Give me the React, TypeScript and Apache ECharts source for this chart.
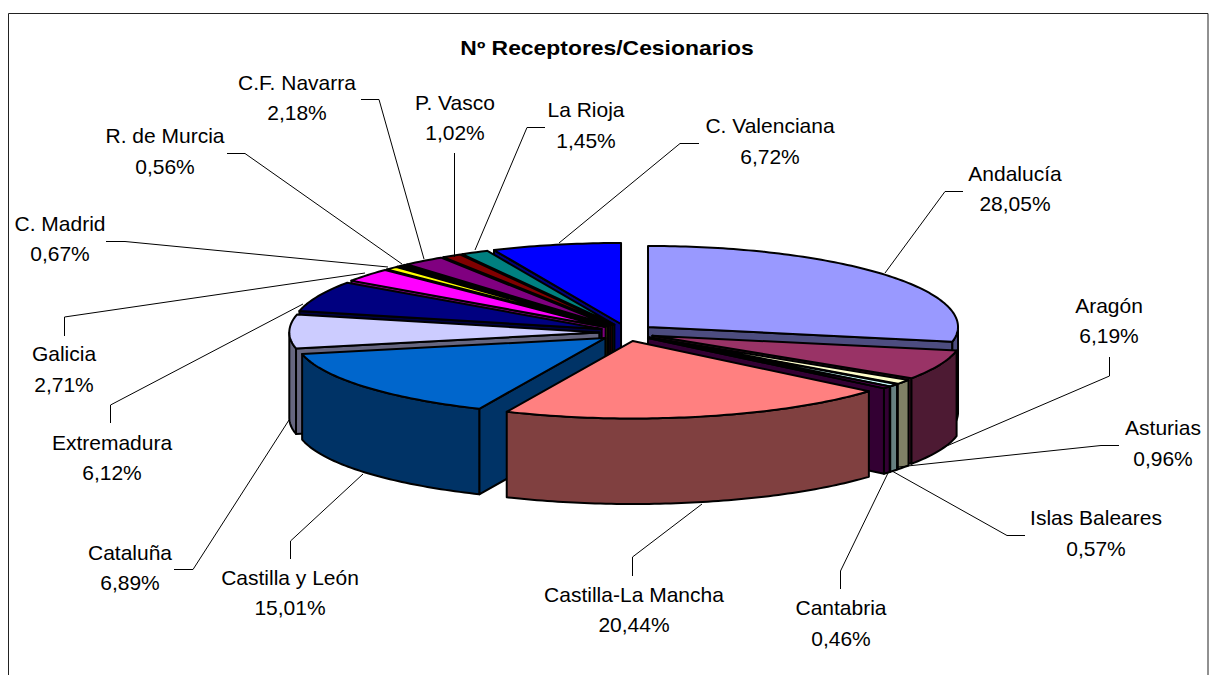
import React, { useEffect, useRef } from "react";
import * as echarts from "echarts";

const categories = ["Andalucía", "Aragón", "Asturias", "Islas Baleares", "Cantabria", "Castilla-La Mancha", "Castilla y León", "Cataluña", "Extremadura", "Galicia", "C. Madrid", "R. de Murcia", "C.F. Navarra", "P. Vasco", "La Rioja", "C. Valenciana"];
const shares = [28.05, 6.19, 0.96, 0.57, 0.46, 20.44, 15.01, 6.89, 6.12, 2.71, 0.67, 0.56, 2.18, 1.02, 1.45, 6.72];
const topColors = ["#9999FF", "#993366", "#FFFFCC", "#CCFFFF", "#660066", "#FF8080", "#0066CC", "#CCCCFF", "#000080", "#FF00FF", "#FFFF00", "#000000", "#800080", "#800000", "#008080", "#0000FF"];
const sideColors = ["#4D4D80", "#4D1A33", "#808066", "#668080", "#330033", "#804040", "#003366", "#666680", "#000040", "#800080", "#808000", "#000000", "#400040", "#400000", "#004040", "#000080"];

// label layout: centre x, first line y, second line y
const labelPos: number[][] = [
  [1015, 173, 203], [1109, 305, 335], [1163, 427, 458], [1096, 517, 548],
  [841, 607, 638], [634, 594, 624], [290, 577, 607], [130, 552, 582],
  [112, 442, 472], [64, 353, 384], [60, 223, 253], [165, 135, 166],
  [297, 82, 112], [455, 102, 132], [586, 109, 140], [770, 125, 156],
];
const leaders: number[][][] = [
  [[963, 191.5], [945, 191.5], [885, 273]],
  [[1109.5, 357], [1109.5, 376], [942, 448]],
  [[1119, 445.5], [1101, 445.5], [898, 467]],
  [[1025, 535.5], [1007, 535.5], [892, 471]],
  [[840.5, 589], [840.5, 571], [888, 473]],
  [[632.5, 576], [632.5, 557], [702, 504]],
  [[290.5, 559], [290.5, 541], [363, 474]],
  [[174, 569.5], [193, 569.5], [289, 420]],
  [[110.5, 423], [110.5, 405], [303, 304]],
  [[64.5, 336], [64.5, 317], [365, 273]],
  [[106, 241.5], [125, 241.5], [388, 267]],
  [[227, 153.5], [245, 153.5], [402, 264]],
  [[361, 99.5], [379, 99.5], [424, 259]],
  [[454.5, 153], [454.5, 257]],
  [[545, 127.5], [527, 127.5], [475, 250]],
  [[699, 143.5], [680, 143.5], [559, 243]],
];

const CX = 626.8, CY = 332.5, RX = 310, RY_BACK = 81, RY_FRONT = 77.5, EX = 27.5, EY = 8.7, DEPTH = 85.5;
const total = shares.reduce((a, b) => a + b, 0);
const rad = (d: number) => (d * Math.PI) / 180;

const ranges = shares.map((_, i) => {
  const before = shares.slice(0, i).reduce((a, b) => a + b, 0);
  const start = (before / total) * 360;
  const end = ((before + shares[i]) / total) * 360;
  return { start, end, mid: (start + end) / 2 };
});
const tipOf = (i: number) => {
  const m = rad(ranges[i].mid);
  return [CX + EX * Math.sin(m), CY - EY * Math.cos(m)];
};
// painter's order: back slices first
const drawOrder = shares.map((_, i) => i).sort((a, b) => tipOf(a)[1] - tipOf(b)[1]);

function renderSlice(_: any, api: any) {
  const i = api.value(0);
  const { start, end } = ranges[i];
  const [tx, ty] = tipOf(i);
  const rim = (deg: number, dy = 0) => {
    const c = Math.cos(rad(deg));
    return [tx + RX * Math.sin(rad(deg)), ty - (c > 0 ? RY_BACK : RY_FRONT) * c + dy];
  };
  const style = (fill: string) => ({ fill, stroke: "#000", lineWidth: 2, lineJoin: "round" });
  const side = sideColors[i];
  const children: any[] = [];
  const wall = (deg: number) => ({
    type: "polygon",
    shape: { points: [[tx, ty], rim(deg), rim(deg, DEPTH), [tx, ty + DEPTH]] },
    style: style(side),
  });
  // a radial cut faces the viewer depending on its direction
  if (Math.cos(rad(start - 90)) < 0) children.push(wall(start));
  if (Math.cos(rad(end + 90)) < 0) children.push(wall(end));
  const a = Math.max(start, 90), b = Math.min(end, 270);
  if (b > a) {
    const pts: number[][] = [];
    for (let d = a; d < b; d += 1) pts.push(rim(d));
    pts.push(rim(b));
    for (let d = b; d > a; d -= 1) pts.push(rim(d, DEPTH));
    pts.push(rim(a, DEPTH));
    children.push({ type: "polygon", shape: { points: pts }, style: style(side) });
  }
  const top: number[][] = [[tx, ty]];
  for (let d = start; d < end; d += 1) top.push(rim(d));
  top.push(rim(end));
  children.push({ type: "polygon", shape: { points: top }, style: style(topColors[i]) });
  return { type: "group", children };
}

const FONT = "Liberation Sans, Arial, sans-serif";

export default function App() {
  const ref = useRef<HTMLDivElement>(null);
  useEffect(() => {
    const chart = echarts.init(ref.current!, undefined, { renderer: "svg" });
    const elements: any[] = [
      { type: "rect", silent: true, z: 0, shape: { x: 8.5, y: 13.5, width: 1199.5, height: 700 }, style: { fill: "#fff", stroke: "#222", lineWidth: 1 } },
      { type: "text", silent: true, z: 5, x: 607, y: 48, scaleX: 1.145, style: { text: "Nº Receptores/Cesionarios", x: 0, y: 0, align: "center", verticalAlign: "middle", font: `bold 20px ${FONT}`, fill: "#000" } },
    ];
    categories.forEach((name, i) => {
      const [x, y1, y2] = labelPos[i];
      elements.push(
        { type: "polyline", silent: true, z: 5, shape: { points: leaders[i] }, style: { fill: "none", stroke: "#000", lineWidth: 1 } },
        { type: "text", silent: true, z: 5, style: { text: name, x, y: y1, align: "center", verticalAlign: "middle", font: `21px ${FONT}`, fill: "#000" } },
        { type: "text", silent: true, z: 5, style: { text: shares[i].toFixed(2).replace(".", ",") + "%", x, y: y2, align: "center", verticalAlign: "middle", font: `21px ${FONT}`, fill: "#000" } },
      );
    });
    chart.setOption({
      animation: false,
      backgroundColor: "#fff",
      graphic: { elements },
      series: [{
        type: "custom",
        coordinateSystem: "none",
        silent: true,
        z: 3,
        clip: false,
        renderItem: renderSlice,
        data: drawOrder.map((i) => [i]),
      }],
    });
    return () => chart.dispose();
  }, []);
  return <div ref={ref} style={{ position: "absolute", left: 0, top: 0, width: 1209, height: 675 }} />;
}
